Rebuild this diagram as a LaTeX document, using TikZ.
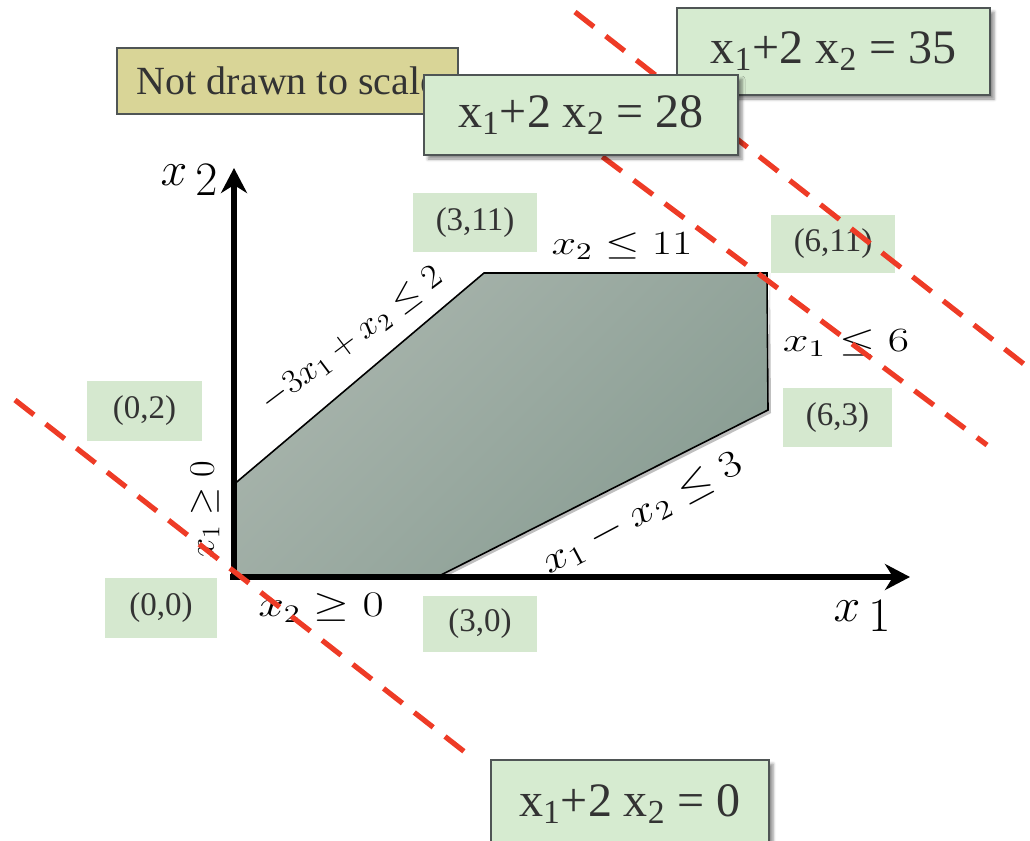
\RequirePackage{fix-cm}
\documentclass[tikz,border=0pt]{standalone}
\usepackage[no-math]{fontspec}
\newfontfamily\boxfont{Liberation Serif}
\usetikzlibrary{arrows.meta,shadows.blur}
\definecolor{eqfill}{HTML}{D6EBD0}
\definecolor{crdfill}{HTML}{D5E8CF}
\definecolor{notefill}{HTML}{D9D597}
\definecolor{edgegray}{HTML}{4F5555}
\definecolor{txtgray}{HTML}{333333}
\definecolor{dashred}{HTML}{EE3B26}
\definecolor{polylight}{HTML}{A9B5AD}
\definecolor{polydark}{HTML}{899D93}
\begin{document}
\begin{tikzpicture}[x=0.5pt,y=-0.5pt,
  eqbox/.style={draw=edgegray, line width=0.7pt, fill=eqfill, inner sep=0pt, text=txtgray,
    font=\boxfont\fontsize{24}{28}\selectfont,
    blur shadow={shadow xshift=2pt, shadow yshift=-2pt, shadow blur radius=1.5pt, shadow opacity=45}},
  notebox/.style={draw=edgegray, line width=0.7pt, fill=notefill, inner sep=0pt, text=txtgray,
    font=\boxfont\fontsize{20}{24}\selectfont},
  crdbox/.style={fill=crdfill, inner sep=0pt, text=txtgray, font=\boxfont\fontsize{16.5}{19}\selectfont},
  mlab/.style={inner sep=0pt, font=\fontsize{17}{20}\selectfont},
  mlabb/.style={inner sep=0pt, font=\fontsize{18}{21}\selectfont},
  axlab/.style={inner sep=0pt, font=\fontsize{24}{28}\selectfont},
  axisline/.style={line width=2.6pt, -{Stealth[length=12.5pt,width=13pt,inset=4pt]}},
  redline/.style={draw=dashred, line width=2.6pt, dash pattern=on 12pt off 7.5pt},
  region/.style={draw=black, line width=0.8pt, top color=polylight, bottom color=polydark, shading angle=45}
]
\useasboundingbox (0,0) rectangle (1030,841);

% coordinate label boxes
\node[crdbox, minimum width=62pt, minimum height=29.5pt] (p311) at (475,222.5) {(3,11)};
\node[crdbox, minimum width=62pt, minimum height=29pt] (p611) at (833,244) {(6,11)};
\node[crdbox, minimum width=54.5pt, minimum height=29.5pt] (p63) at (837.5,417.5) {(6,3)};
\node[crdbox, minimum width=57.5pt, minimum height=30pt] (p02) at (144.5,411) {(0,2)};
\node[crdbox, minimum width=56pt, minimum height=30pt] (p00) at (161,608) {(0,0)};
\node[crdbox, minimum width=57pt, minimum height=28pt] (p30) at (480,624) {(3,0)};

% feasible region
\coordinate (vO) at (232,577);
\coordinate (vA) at (232,486);
\coordinate (vB) at (484,273);
\coordinate (vC) at (767,273);
\coordinate (vD) at (768,410);
\coordinate (vE) at (437,577);
\fill[black, opacity=0.25] ([shift={(3,3)}]vD) -- ([shift={(3,3)}]vC) -- ([shift={(3,0)}]vC) -- (vD) -- (vE) -- ([shift={(2,3)}]vE) -- cycle;
\path[region] (vO) -- (vA) -- (vB) -- (vC) -- (vD) -- (vE) -- cycle;

% axes
\coordinate (ax0) at (234,579);
\coordinate (ax0h) at (230,577);
\coordinate (x2tip) at (234,168);
\coordinate (x1tip) at (910,577);
\draw[axisline] (ax0) -- (x2tip);
\draw[axisline] (ax0h) -- (x1tip);

% axis labels
\node[axlab] (lax2) at (189,180) {$x\,$\raisebox{-0.2em}{$2$}};
\node[axlab] (lax1) at (862,616) {$x\,$\raisebox{-0.2em}{$1$}};

% constraint labels
\node[mlab, xscale=1.3] (l11) at (622,246) {$x_2 \leq 11$};
\node[mlab, xscale=1.36] (l6) at (846,343) {$x_1 \leq 6$};
\node[mlabb, xscale=1.28] (lx2) at (321,608) {$x_2 \geq 0$};
\node[mlabb, rotate=90] (lx1) at (205,510) {$x_1 \geq 0$};
\node[mlab, rotate=37, xscale=1.06] (lc1) at (352,340) {$-3x_1 + x_2 \leq 2$};
\node[inner sep=0pt, font=\fontsize{19}{22}\selectfont, rotate=28, xscale=1.2] (lc2) at (643,514) {$x_1 - x_2 \leq 3$};

% note
\node[notebox, minimum width=170.5pt, minimum height=33pt] (note) at (287.5,81) {Not drawn to scale};

% objective lines
\coordinate (z0a) at (15,400);
\coordinate (z0b) at (475,760);
\coordinate (z28a) at (540,110);
\coordinate (z28b) at (987,445);
\coordinate (z35a) at (575,12);
\coordinate (z35b) at (1034,372);
\draw[redline] (z0a) -- (z0b);
\draw[redline] (z28a) -- (z28b);
\draw[redline] (z35a) -- (z35b);

% objective boxes
\node[eqbox, minimum width=156.5pt, minimum height=43.5pt] (e35) at (833.5,51.5) {x\textsubscript{1}+2 x\textsubscript{2} = 35};
\node[eqbox, minimum width=157pt, minimum height=40pt] (e28) at (581,115) {x\textsubscript{1}+2 x\textsubscript{2} = 28};
\node[eqbox, minimum width=139pt, minimum height=44pt] (e0) at (630,804) {x\textsubscript{1}+2 x\textsubscript{2} = 0};
\end{tikzpicture}
\end{document}
